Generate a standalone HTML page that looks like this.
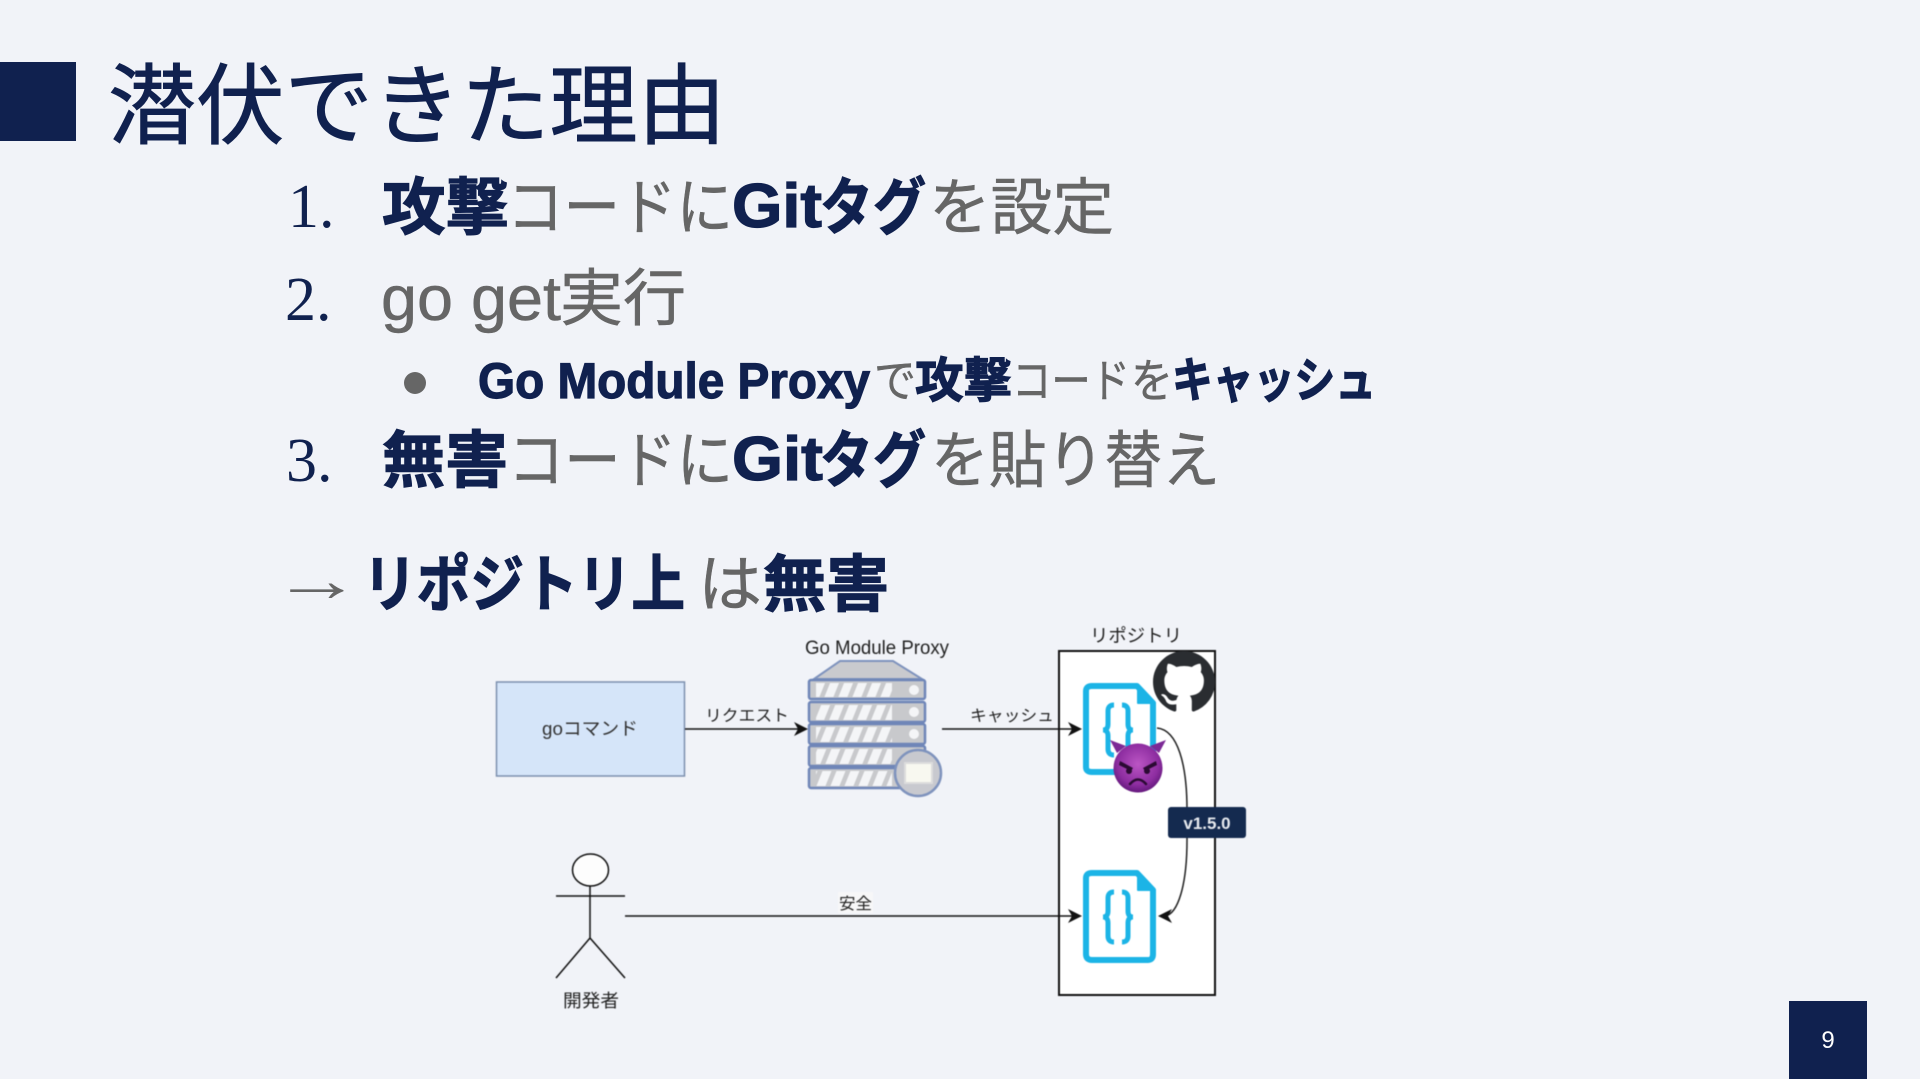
<!DOCTYPE html>
<html lang="ja"><head><meta charset="utf-8"><title>潜伏できた理由</title>
<style>
html,body{margin:0;padding:0;background:#f1f3f8;width:1920px;height:1079px;overflow:hidden}
svg{display:block;position:absolute;left:0;top:0}
.s{font-family:"Liberation Sans","Noto Sans CJK JP",sans-serif}
.n{fill:#10214f}.g{fill:#666666;stroke:#666666;stroke-width:.5px}
.b{font-weight:700;stroke:#10214f;stroke-width:1.2px}
.t{stroke:#10214f;stroke-width:.9px}
.m{font-family:"Liberation Serif",serif;fill:#10214f;font-size:62px}
.d{font-family:"Liberation Sans","Noto Sans CJK JP",sans-serif;fill:#222;font-size:16px}
.dg{filter:blur(.45px)}
</style></head><body>
<svg width="1920" height="1079" viewBox="0 0 1920 1079" xmlns="http://www.w3.org/2000/svg">
<defs>
<pattern id="st" width="14" height="24" patternUnits="userSpaceOnUse" patternTransform="skewX(-22)">
<rect x="0" y="0" width="9" height="24" fill="#f4f5f7"/>
</pattern>
<radialGradient id="dv" cx="50%" cy="42%" r="60%"><stop offset="0" stop-color="#bb55c4"/><stop offset=".7" stop-color="#8d2da0"/><stop offset="1" stop-color="#5f1678"/></radialGradient>
</defs>
<rect width="1920" height="1079" fill="#f1f3f8"/>
<rect x="0" y="62" width="76" height="79" fill="#10214f"/>
<text class="s n t" x="108" y="137" font-size="88" textLength="618" lengthAdjust="spacingAndGlyphs">潜伏できた理由</text>

<text class="m" x="288" y="227">1.</text>
<text class="s n b" x="382" y="229" font-size="62" textLength="127" lengthAdjust="spacingAndGlyphs">攻撃</text>
<text class="s g" x="507" y="229" font-size="62" textLength="226" lengthAdjust="spacingAndGlyphs">コードに</text>
<text class="s n b" x="732" y="227" font-size="62" textLength="90" lengthAdjust="spacingAndGlyphs">Git</text>
<text class="s n b" x="820" y="229" font-size="62" textLength="106" lengthAdjust="spacingAndGlyphs">タグ</text>
<text class="s g" x="929" y="229" font-size="62" textLength="185" lengthAdjust="spacingAndGlyphs">を設定</text>

<text class="m" x="285" y="320">2.</text>
<text class="s g" x="381" y="320" font-size="63" textLength="180" lengthAdjust="spacingAndGlyphs">go get</text>
<text class="s g" x="560" y="320" font-size="62" textLength="126" lengthAdjust="spacingAndGlyphs">実行</text>

<circle cx="415" cy="383" r="11" fill="#666"/>
<text class="s n b" x="478" y="398" font-size="50" textLength="392" lengthAdjust="spacingAndGlyphs">Go Module Proxy</text>
<text class="s g" x="874" y="397" font-size="46" textLength="42" lengthAdjust="spacingAndGlyphs">で</text>
<text class="s n b" x="915" y="397" font-size="48" textLength="97" lengthAdjust="spacingAndGlyphs">攻撃</text>
<text class="s g" x="1012" y="397" font-size="46" textLength="118" lengthAdjust="spacingAndGlyphs">コード</text>
<text class="s g" x="1131" y="397" font-size="46" textLength="42" lengthAdjust="spacingAndGlyphs">を</text>
<text class="s n b" x="1172" y="397" font-size="48" textLength="204" lengthAdjust="spacingAndGlyphs">キャッシュ</text>

<text class="m" x="286" y="481">3.</text>
<text class="s n b" x="382" y="482" font-size="62" textLength="126" lengthAdjust="spacingAndGlyphs">無害</text>
<text class="s g" x="508" y="482" font-size="62" textLength="225" lengthAdjust="spacingAndGlyphs">コードに</text>
<text class="s n b" x="732" y="480" font-size="62" textLength="91" lengthAdjust="spacingAndGlyphs">Git</text>
<text class="s n b" x="820" y="482" font-size="62" textLength="106" lengthAdjust="spacingAndGlyphs">タグ</text>
<text class="s g" x="931" y="482" font-size="62" textLength="289" lengthAdjust="spacingAndGlyphs">を貼り替え</text>

<text x="272" y="601" font-family="'Liberation Serif',serif" font-size="62" fill="#666" textLength="90" lengthAdjust="spacingAndGlyphs">→</text>
<text class="s n b" x="363" y="606" font-size="62" textLength="322" lengthAdjust="spacingAndGlyphs">リポジトリ上</text>
<text class="s g" x="698" y="606" font-size="62" textLength="64" lengthAdjust="spacingAndGlyphs">は</text>
<text class="s n b" x="763" y="606" font-size="62" textLength="126" lengthAdjust="spacingAndGlyphs">無害</text>

<g class="dg">
<!-- go command -->
<rect x="496.500" y="682" width="188" height="94" fill="#d5e5f9" stroke="#7c8fae" stroke-width="1.500"/>
<text class="d" x="542" y="735" textLength="96" lengthAdjust="spacingAndGlyphs" style="font-size:18px;fill:#333">goコマンド</text>

<!-- request arrow -->
<line x1="685" y1="729" x2="800" y2="729" stroke="#111" stroke-width="1.500"/>
<path d="M808 729 L794 722 L798 729 L794 736 Z" fill="#111"/>
<text class="d" x="705" y="721" textLength="84" lengthAdjust="spacingAndGlyphs">リクエスト</text>

<!-- server -->
<text x="805" y="654" font-family="'Liberation Sans',sans-serif" font-size="19" fill="#222" textLength="144" lengthAdjust="spacingAndGlyphs">Go Module Proxy</text>
<path d="M814 679 L840 661 L893 661 L922 679 Z" fill="#c9cace" stroke="#7f93bd" stroke-width="2"/>
<g stroke="#6f86b8" stroke-width="2.500">
<rect x="809" y="680" width="116" height="19" rx="2" fill="#c8c9cc"/>
<rect x="809" y="702" width="116" height="20" rx="2" fill="#c8c9cc"/>
<rect x="809" y="724" width="116" height="20" rx="2" fill="#c8c9cc"/>
<rect x="809" y="746" width="116" height="20" rx="2" fill="#c8c9cc"/>
<rect x="809" y="768" width="116" height="20" rx="2" fill="#c8c9cc"/>
</g>
<g fill="url(#st)">
<rect x="816" y="683" width="76" height="14"/>
<rect x="816" y="705" width="76" height="15"/>
<rect x="816" y="727" width="76" height="15"/>
<rect x="816" y="749" width="76" height="15"/>
<rect x="816" y="771" width="76" height="15"/>
</g>
<g fill="#f4f5f7"><circle cx="914" cy="690" r="5"/><circle cx="914" cy="712" r="5"/><circle cx="914" cy="734" r="5"/></g>
<circle cx="918" cy="773" r="23" fill="#c8c9cf" stroke="#7f93bd" stroke-width="2.500"/>
<rect x="905" y="763" width="27" height="20" fill="#f8f8f0" stroke="#dcdcdc" stroke-width="2"/>

<!-- repo -->
<rect x="1059" y="651" width="156" height="344" fill="#fff" stroke="#111" stroke-width="2"/>
<text class="d" x="1090" y="642" textLength="92" lengthAdjust="spacingAndGlyphs" style="font-size:18px">リポジトリ</text>
<g transform="translate(1153 651) scale(3.88)"><path fill="#2a2d31" d="M8 0C3.58 0 0 3.58 0 8c0 3.54 2.29 6.53 5.47 7.59.4.07.55-.17.55-.38 0-.19-.01-.82-.01-1.49-2.01.37-2.53-.49-2.69-.94-.09-.23-.48-.94-.82-1.13-.28-.15-.68-.52-.01-.53.63-.01 1.08.58 1.23.82.72 1.21 1.87.87 2.33.66.07-.52.28-.87.51-1.07-1.78-.2-3.64-.89-3.64-3.95 0-.87.31-1.59.82-2.15-.08-.2-.36-1.02.08-2.12 0 0 .67-.21 2.2.82.64-.18 1.32-.27 2-.27.68 0 1.36.09 2 .27 1.53-1.04 2.2-.82 2.2-.82.44 1.1.16 1.92.08 2.12.51.56.82 1.27.82 2.15 0 3.07-1.87 3.75-3.65 3.95.29.25.54.73.54 1.48 0 1.07-.01 1.93-.01 2.2 0 .21.15.46.55.38A8.013 8.013 0 0016 8c0-4.42-3.58-8-8-8z"/></g>

<!-- file 1 -->
<path d="M1092 686 H1137 L1153 703 V767 Q1153 772 1148 772 H1092 Q1086 772 1086 767 V691 Q1086 686 1092 686 Z" fill="#fff" stroke="#1cb4e6" stroke-width="6" stroke-linejoin="round"/>
<path d="M1138 685 L1155 703 H1138 Z" fill="#1cb4e6" stroke="#1cb4e6" stroke-width="2" stroke-linejoin="round"/>
<path d="M1114 705 Q1108 705 1108 711 V724 Q1108 730 1103 730 Q1108 730 1108 736 V749 Q1108 755 1114 755 M1122 705 Q1128 705 1128 711 V724 Q1128 730 1133 730 Q1128 730 1128 736 V749 Q1128 755 1122 755" fill="none" stroke="#1cb4e6" stroke-width="5"/>
<!-- file 2 -->
<path d="M1092 873 H1137 L1153 890 V954 Q1153 960 1148 960 H1092 Q1086 960 1086 954 V878 Q1086 873 1092 873 Z" fill="#fff" stroke="#1cb4e6" stroke-width="6" stroke-linejoin="round"/>
<path d="M1138 872 L1155 890 H1138 Z" fill="#1cb4e6" stroke="#1cb4e6" stroke-width="2" stroke-linejoin="round"/>
<path d="M1114 892 Q1108 892 1108 898 V911 Q1108 917 1103 917 Q1108 917 1108 923 V936 Q1108 942 1114 942 M1122 892 Q1128 892 1128 898 V911 Q1128 917 1133 917 Q1128 917 1128 923 V936 Q1128 942 1122 942" fill="none" stroke="#1cb4e6" stroke-width="5"/>

<!-- cache arrow -->
<line x1="942" y1="729" x2="1074" y2="729" stroke="#111" stroke-width="1.500"/>
<path d="M1082 729 L1068 722 L1072 729 L1068 736 Z" fill="#111"/>
<text class="d" x="970" y="721" textLength="84" lengthAdjust="spacingAndGlyphs">キャッシュ</text>

<!-- curve -->
<path d="M1157 728 C1178 730 1187 765 1187 810 L1187 840 C1187 885 1178 914 1165 916" fill="none" stroke="#222" stroke-width="1.500"/>
<path d="M1158 916 L1172 909 L1168 916 L1172 923 Z" fill="#111"/>

<!-- devil -->
<path d="M1117 753 L1110 740 L1126 746 Z M1159 753 L1166 740 L1150 746 Z" fill="#7c2a96"/>
<circle cx="1138" cy="768" r="24.500" fill="url(#dv)"/>
<path d="M1120 761 L1133 768 L1131 771 L1119 765 Z M1156 761 L1143 768 L1145 771 L1157 765 Z" fill="#2b0a33"/>
<circle cx="1129" cy="771" r="3" fill="#2b0a33"/><circle cx="1147" cy="771" r="3" fill="#2b0a33"/>
<path d="M1130 784 Q1138 775 1146 784" fill="none" stroke="#2b0a33" stroke-width="2.500" stroke-linecap="round"/>

<!-- badge -->
<rect x="1168" y="807" width="78" height="31" rx="3" fill="#142a4f"/>
<text x="1207" y="829" text-anchor="middle" font-family="'Liberation Sans',sans-serif" font-weight="700" font-size="17" fill="#e6e9ee">v1.5.0</text>

<!-- actor -->
<ellipse cx="590.500" cy="870" rx="18" ry="16" fill="#fdfdfd" stroke="#111" stroke-width="1.500"/>
<path d="M590 886 V938 M556 896 H625 M590 938 L556 978 M590 938 L625 978" fill="none" stroke="#111" stroke-width="1.500"/>
<text class="d" x="563" y="1007" textLength="56" lengthAdjust="spacingAndGlyphs" style="font-size:18px">開発者</text>

<!-- safe line -->
<line x1="625" y1="916" x2="1074" y2="916" stroke="#111" stroke-width="1.500"/>
<path d="M1082 916 L1068 909 L1072 916 L1068 923 Z" fill="#111"/>
<rect x="838" y="892" width="35" height="21" fill="#f7f7f8"/>
<text class="d" x="839" y="909" textLength="33" lengthAdjust="spacingAndGlyphs">安全</text>
</g>

<rect x="1789" y="1001" width="78" height="78" fill="#10214f"/>
<text x="1828" y="1048" text-anchor="middle" font-family="'Liberation Sans',sans-serif" font-size="24" fill="#fff">9</text>
</svg>
</body></html>
